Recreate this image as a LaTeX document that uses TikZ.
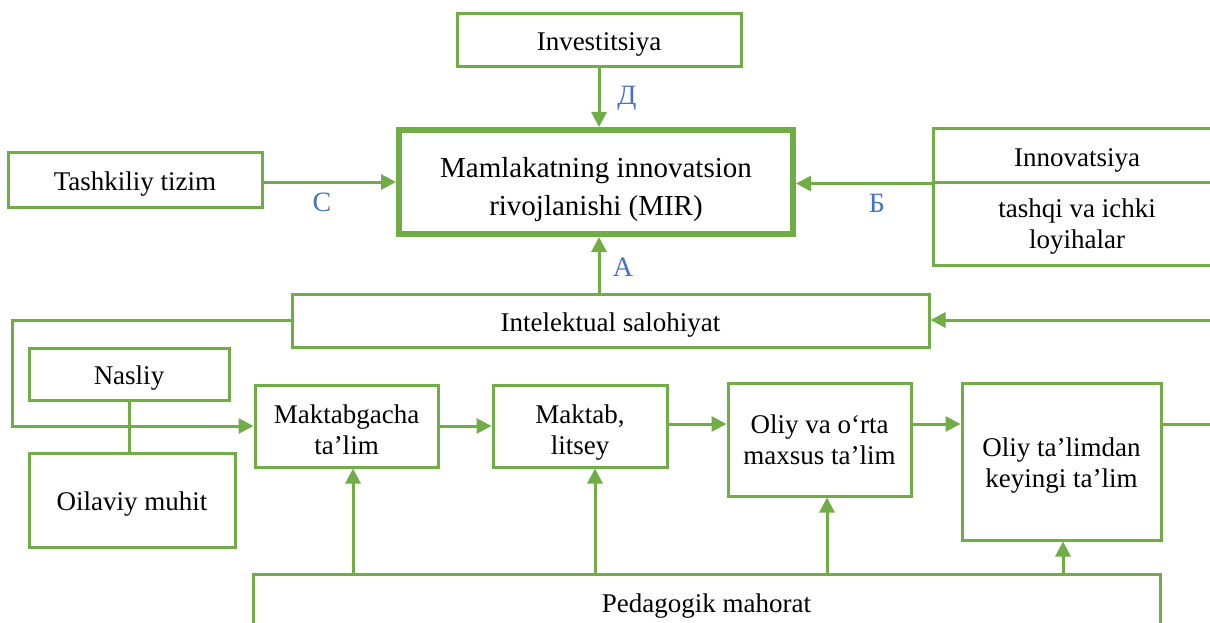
\documentclass[tikz,border=0pt]{standalone}
\usepackage{fontspec}
\setmainfont{Liberation Serif}
\usetikzlibrary{arrows.meta,calc}
\definecolor{grn}{HTML}{70AD47}
\definecolor{blu}{HTML}{4472C4}
\tikzset{
  box/.style={draw=grn, line width=3pt, rectangle, inner sep=2pt, align=center,
    font=\fontsize{27}{31}\selectfont, text=black, text depth=0pt},
  one/.style={text height=21pt},
  bigbox/.style={box, line width=6pt, font=\fontsize{29}{38}\selectfont, text height=66pt},
  conn/.style={draw=grn, line width=3pt},
  arr/.style={conn, -{Triangle[length=15pt,width=15pt]}},
  lbl/.style={text=blu, font=\fontsize{28}{30}\selectfont, inner sep=0pt}
}
\begin{document}
\begin{tikzpicture}[x=1pt,y=-1pt]
\useasboundingbox (0,0) rectangle (1210,623);
\clip (0,0) rectangle (1210,623);
% top nodes
\node[box, one, minimum width=284pt, minimum height=53pt] (inv) at (599,40.5) {Investitsiya};
\node[bigbox, minimum width=394pt, minimum height=104pt] (mir) at (596,182) {Mamlakatning innovatsion\\rivojlanishi (MIR)};
\node[box, one, minimum width=254pt, minimum height=54pt] (tash) at (135,180) {Tashkiliy tizim};
\node[box, one, minimum width=288pt, minimum height=53pt] (inn1) at (1077,155.5) {Innovatsiya};
\node[box, minimum width=288pt, minimum height=83pt, text height=49pt] (inn2) at (1077,223.5) {tashqi va ichki\\loyihalar};
\node[box, one, minimum width=637pt, minimum height=53pt] (intel) at (610.5,320.5) {Intelektual salohiyat};
% left side
\node[box, one, minimum width=200pt, minimum height=52pt] (nas) at (129,374) {Nasliy};
\node[box, one, minimum width=206pt, minimum height=94pt] (oil) at (132,500) {Oilaviy muhit};
% education row
\node[box, minimum width=183pt, minimum height=82pt, text height=56pt] (mg) at (346.5,426) {Maktabgacha\\ta’lim};
\node[box, minimum width=174pt, minimum height=82pt, text height=57pt] (mk) at (580,426) {Maktab,\\litsey};
\node[box, minimum width=183pt, minimum height=113pt] (ov) at (819.5,439.5) {Oliy va o‘rta\\maxsus ta’lim};
\node[box, minimum width=199pt, minimum height=157pt, text height=52pt] (ot) at (1061.5,461.5) {Oliy ta’limdan\\keyingi ta’lim};
\node[box, minimum width=907pt, anchor=north, inner ysep=19pt] (ped) at (706.5,573) {Pedagogik mahorat};
% helper coordinates
\coordinate (rin) at (1215,320);
\coordinate (lc) at (12,0);
\coordinate (rout) at (1215,424);
\coordinate (p1) at (353,0);
\coordinate (p2) at (595,0);
\coordinate (p3) at (827,0);
\coordinate (p4) at (1063,0);
\coordinate (row) at (0,424);
% connectors to MIR
\draw[arr] (inv.south) -- (inv.south |- mir.north);
\draw[arr] (tash.east |- 0,182) -- (mir.west |- 0,182);
\draw[arr] (inn1.south west) -- (inn1.south west -| mir.east);
\draw[arr] (intel.north -| inv.south) -- (inv.south |- mir.south);
% labels
\node[lbl] (lD) at (627,98) {Д};
\node[lbl] (lC) at (322,202) {С};
\node[lbl] (lB) at (877,203) {Б};
\node[lbl] (lA) at (623,267) {А};
% intel routes
\draw[arr] (rin) -- (intel.east |- rin);
\draw[arr] (intel.west) -- (intel.west -| lc) -- (lc |- mg.west) -- (mg.west);
\draw[conn] (nas.south) -- (nas.south |- oil.north);
% education row
\draw[arr] (mg.east) -- (mg.east -| mk.west);
\draw[arr] (mk.east |- row) -- (ov.west |- row);
\draw[arr] (ov.east |- row) -- (ot.west |- row);
\draw[conn] (ot.east |- row) -- (rout);
% pedagogik arrows
\draw[arr] (p1 |- ped.north) -- (p1 |- mg.south);
\draw[arr] (p2 |- ped.north) -- (p2 |- mk.south);
\draw[arr] (p3 |- ped.north) -- (p3 |- ov.south);
\draw[arr] (p4 |- ped.north) -- (p4 |- ot.south);
\end{tikzpicture}
\end{document}
